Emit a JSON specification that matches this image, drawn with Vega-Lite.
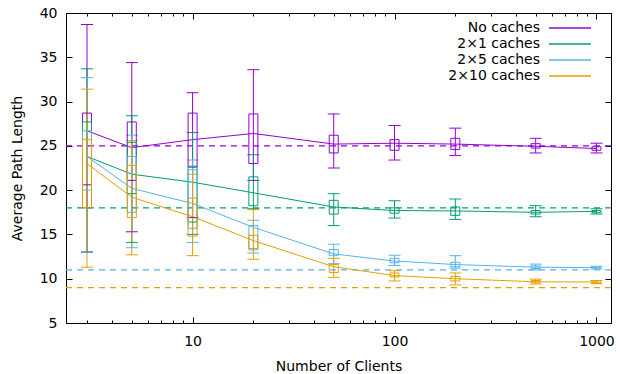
{
  "$schema": "https://vega.github.io/schema/vega-lite/v6.json",
  "width": 545,
  "height": 310,
  "autosize": {"type": "none"},
  "padding": {"left": 66, "top": 13, "right": 9, "bottom": 51},
  "background": "white",
  "config": {
    "font": "DejaVu Sans",
    "view": {"stroke": "black", "strokeWidth": 1},
    "axis": {
      "domain": false, "grid": false,
      "labelFont": "DejaVu Sans", "labelFontSize": 14, "labelColor": "black",
      "tickColor": "black", "tickWidth": 1,
      "titleFont": "DejaVu Sans", "titleFontSize": 14, "titleFontWeight": "normal", "titleColor": "black"
    },
    "legend": {
      "orient": "none", "legendX": 497, "legendY": 8, "padding": 0,
      "symbolType": "M-4,0H4", "symbolSize": 110, "symbolStrokeWidth": 1.5,
      "labelFont": "DejaVu Sans", "labelFontSize": 14, "labelColor": "black",
      "labelAlign": "right", "labelOffset": -37, "rowPadding": 2, "labelLimit": 300
    }
  },
  "datasets": {
    "stats": [
      {"series": "No caches", "clients": 3, "min": 13.0, "q1": 20.6, "q3": 28.7, "max": 38.7, "mean": 26.7},
      {"series": "No caches", "clients": 5, "min": 15.3, "q1": 21.1, "q3": 27.7, "max": 34.4, "mean": 24.8},
      {"series": "No caches", "clients": 10, "min": 16.9, "q1": 22.6, "q3": 28.7, "max": 31.0, "mean": 25.7},
      {"series": "No caches", "clients": 20, "min": 21.1, "q1": 23.0, "q3": 28.6, "max": 33.6, "mean": 26.4},
      {"series": "No caches", "clients": 50, "min": 22.5, "q1": 24.2, "q3": 26.2, "max": 28.6, "mean": 25.2},
      {"series": "No caches", "clients": 100, "min": 23.4, "q1": 24.5, "q3": 25.7, "max": 27.3, "mean": 25.3},
      {"series": "No caches", "clients": 200, "min": 23.9, "q1": 24.6, "q3": 25.85, "max": 27.0, "mean": 25.2},
      {"series": "No caches", "clients": 500, "min": 24.2, "q1": 24.75, "q3": 25.25, "max": 25.85, "mean": 24.95},
      {"series": "No caches", "clients": 1000, "min": 24.2, "q1": 24.5, "q3": 24.9, "max": 25.3, "mean": 24.7},
      {"series": "2×1 caches", "clients": 3, "min": 13.0, "q1": 18.0, "q3": 27.7, "max": 33.7, "mean": 23.8},
      {"series": "2×1 caches", "clients": 5, "min": 14.1, "q1": 19.6, "q3": 25.4, "max": 28.4, "mean": 21.8},
      {"series": "2×1 caches", "clients": 10, "min": 15.0, "q1": 16.4, "q3": 22.7, "max": 26.5, "mean": 20.9},
      {"series": "2×1 caches", "clients": 20, "min": 17.9, "q1": 18.25, "q3": 21.5, "max": 24.0, "mean": 19.7},
      {"series": "2×1 caches", "clients": 50, "min": 16.0, "q1": 17.3, "q3": 18.85, "max": 19.6, "mean": 18.1},
      {"series": "2×1 caches", "clients": 100, "min": 16.85, "q1": 17.4, "q3": 18.0, "max": 18.8, "mean": 17.7},
      {"series": "2×1 caches", "clients": 200, "min": 16.7, "q1": 17.15, "q3": 18.1, "max": 19.0, "mean": 17.65},
      {"series": "2×1 caches", "clients": 500, "min": 17.0, "q1": 17.3, "q3": 17.7, "max": 18.25, "mean": 17.5},
      {"series": "2×1 caches", "clients": 1000, "min": 17.3, "q1": 17.45, "q3": 17.7, "max": 17.9, "mean": 17.6},
      {"series": "2×5 caches", "clients": 3, "min": 13.0, "q1": 20.0, "q3": 26.7, "max": 32.7, "mean": 23.8},
      {"series": "2×5 caches", "clients": 5, "min": 13.5, "q1": 17.5, "q3": 23.8, "max": 26.2, "mean": 20.2},
      {"series": "2×5 caches", "clients": 10, "min": 14.1, "q1": 15.7, "q3": 22.3, "max": 23.4, "mean": 18.5},
      {"series": "2×5 caches", "clients": 20, "min": 12.9, "q1": 13.4, "q3": 16.0, "max": 16.6, "mean": 15.8},
      {"series": "2×5 caches", "clients": 50, "min": 11.7, "q1": 12.6, "q3": 13.3, "max": 13.9, "mean": 12.8},
      {"series": "2×5 caches", "clients": 100, "min": 11.5, "q1": 11.8, "q3": 12.3, "max": 12.65, "mean": 12.0},
      {"series": "2×5 caches", "clients": 200, "min": 11.2, "q1": 11.35, "q3": 11.85, "max": 12.6, "mean": 11.6},
      {"series": "2×5 caches", "clients": 500, "min": 11.0, "q1": 11.15, "q3": 11.45, "max": 11.65, "mean": 11.3},
      {"series": "2×5 caches", "clients": 1000, "min": 11.1, "q1": 11.2, "q3": 11.3, "max": 11.4, "mean": 11.25},
      {"series": "2×10 caches", "clients": 3, "min": 11.3, "q1": 18.0, "q3": 25.7, "max": 31.4, "mean": 23.0},
      {"series": "2×10 caches", "clients": 5, "min": 12.7, "q1": 16.9, "q3": 22.8, "max": 25.6, "mean": 19.2},
      {"series": "2×10 caches", "clients": 10, "min": 12.6, "q1": 14.8, "q3": 19.1, "max": 21.8, "mean": 17.0},
      {"series": "2×10 caches", "clients": 20, "min": 12.2, "q1": 13.25, "q3": 14.9, "max": 17.8, "mean": 14.3},
      {"series": "2×10 caches", "clients": 50, "min": 10.15, "q1": 10.7, "q3": 11.6, "max": 12.3, "mean": 11.35},
      {"series": "2×10 caches", "clients": 100, "min": 9.75, "q1": 10.2, "q3": 10.65, "max": 10.9, "mean": 10.35},
      {"series": "2×10 caches", "clients": 200, "min": 9.3, "q1": 9.75, "q3": 10.25, "max": 10.65, "mean": 10.0},
      {"series": "2×10 caches", "clients": 500, "min": 9.4, "q1": 9.55, "q3": 9.8, "max": 9.95, "mean": 9.65},
      {"series": "2×10 caches", "clients": 1000, "min": 9.45, "q1": 9.55, "q3": 9.75, "max": 9.8, "mean": 9.63}
    ],
    "refs": [
      {"series": "No caches", "level": 25},
      {"series": "2×1 caches", "level": 18},
      {"series": "2×5 caches", "level": 11},
      {"series": "2×10 caches", "level": 9}
    ]
  },
  "layer": [
    {
      "data": {"name": "refs"},
      "mark": {"type": "rule", "strokeDash": [6, 5], "strokeWidth": 1.3},
      "encoding": {
        "y": {"field": "level", "type": "quantitative",
              "scale": {"domain": [5, 40], "nice": false, "zero": false},
              "axis": {"orient": "left", "values": [5, 10, 15, 20, 25, 30, 35, 40], "tickSize": -6, "labelPadding": 15, "title": "Average Path Length", "titlePadding": 15}},
        "color": {"field": "series", "type": "nominal",
                  "scale": {"domain": ["No caches", "2×1 caches", "2×5 caches", "2×10 caches"], "range": ["#9400d3", "#009e73", "#56b4e9", "#e69f00"]},
                  "legend": {"title": null}}
      }
    },
    {
      "data": {"name": "stats"},
      "mark": {"type": "line", "strokeWidth": 1},
      "encoding": {
        "x": {"field": "clients", "type": "quantitative",
              "scale": {"type": "log", "domain": [2.5, 1115], "nice": false},
              "axis": {"orient": "bottom", "values": [10, 100, 1000], "format": "d", "tickSize": -6, "labelPadding": 17, "title": "Number of Clients", "titlePadding": 11}},
        "y": {"field": "mean", "type": "quantitative",
              "axis": {"orient": "right", "values": [5, 10, 15, 20, 25, 30, 35, 40], "tickSize": -6, "labels": false, "title": null}},
        "color": {"field": "series", "type": "nominal"}
      }
    },
    {
      "data": {"name": "stats"},
      "mark": {"type": "rule", "strokeWidth": 1},
      "encoding": {
        "x": {"field": "clients", "type": "quantitative",
              "axis": {"orient": "bottom", "values": [3, 4, 5, 6, 7, 8, 9, 20, 30, 40, 50, 60, 70, 80, 90, 200, 300, 400, 500, 600, 700, 800, 900], "tickSize": -3, "labels": false, "title": null}},
        "y": {"field": "min", "type": "quantitative", "axis": null},
        "y2": {"field": "max"},
        "color": {"field": "series", "type": "nominal"}
      }
    },
    {
      "data": {"name": "stats"},
      "mark": {"type": "tick", "orient": "horizontal", "size": 12, "thickness": 1, "opacity": 1},
      "encoding": {
        "x": {"field": "clients", "type": "quantitative",
              "axis": {"orient": "top", "values": [10, 100, 1000], "tickSize": -6, "labels": false, "title": null}},
        "y": {"field": "min", "type": "quantitative", "axis": null},
        "color": {"field": "series", "type": "nominal"}
      }
    },
    {
      "data": {"name": "stats"},
      "mark": {"type": "tick", "orient": "horizontal", "size": 12, "thickness": 1, "opacity": 1},
      "encoding": {
        "x": {"field": "clients", "type": "quantitative",
              "axis": {"orient": "top", "values": [3, 4, 5, 6, 7, 8, 9, 20, 30, 40, 50, 60, 70, 80, 90, 200, 300, 400, 500, 600, 700, 800, 900], "tickSize": -3, "labels": false, "title": null}},
        "y": {"field": "max", "type": "quantitative", "axis": null},
        "color": {"field": "series", "type": "nominal"}
      }
    },
    {
      "data": {"name": "stats"},
      "mark": {"type": "bar", "filled": false, "size": 9, "strokeWidth": 1, "fill": "transparent"},
      "encoding": {
        "x": {"field": "clients", "type": "quantitative", "axis": null},
        "y": {"field": "q1", "type": "quantitative", "axis": null},
        "y2": {"field": "q3"},
        "color": {"field": "series", "type": "nominal"}
      }
    }
  ],
  "resolve": {"axis": {"x": "independent", "y": "independent"}}
}
